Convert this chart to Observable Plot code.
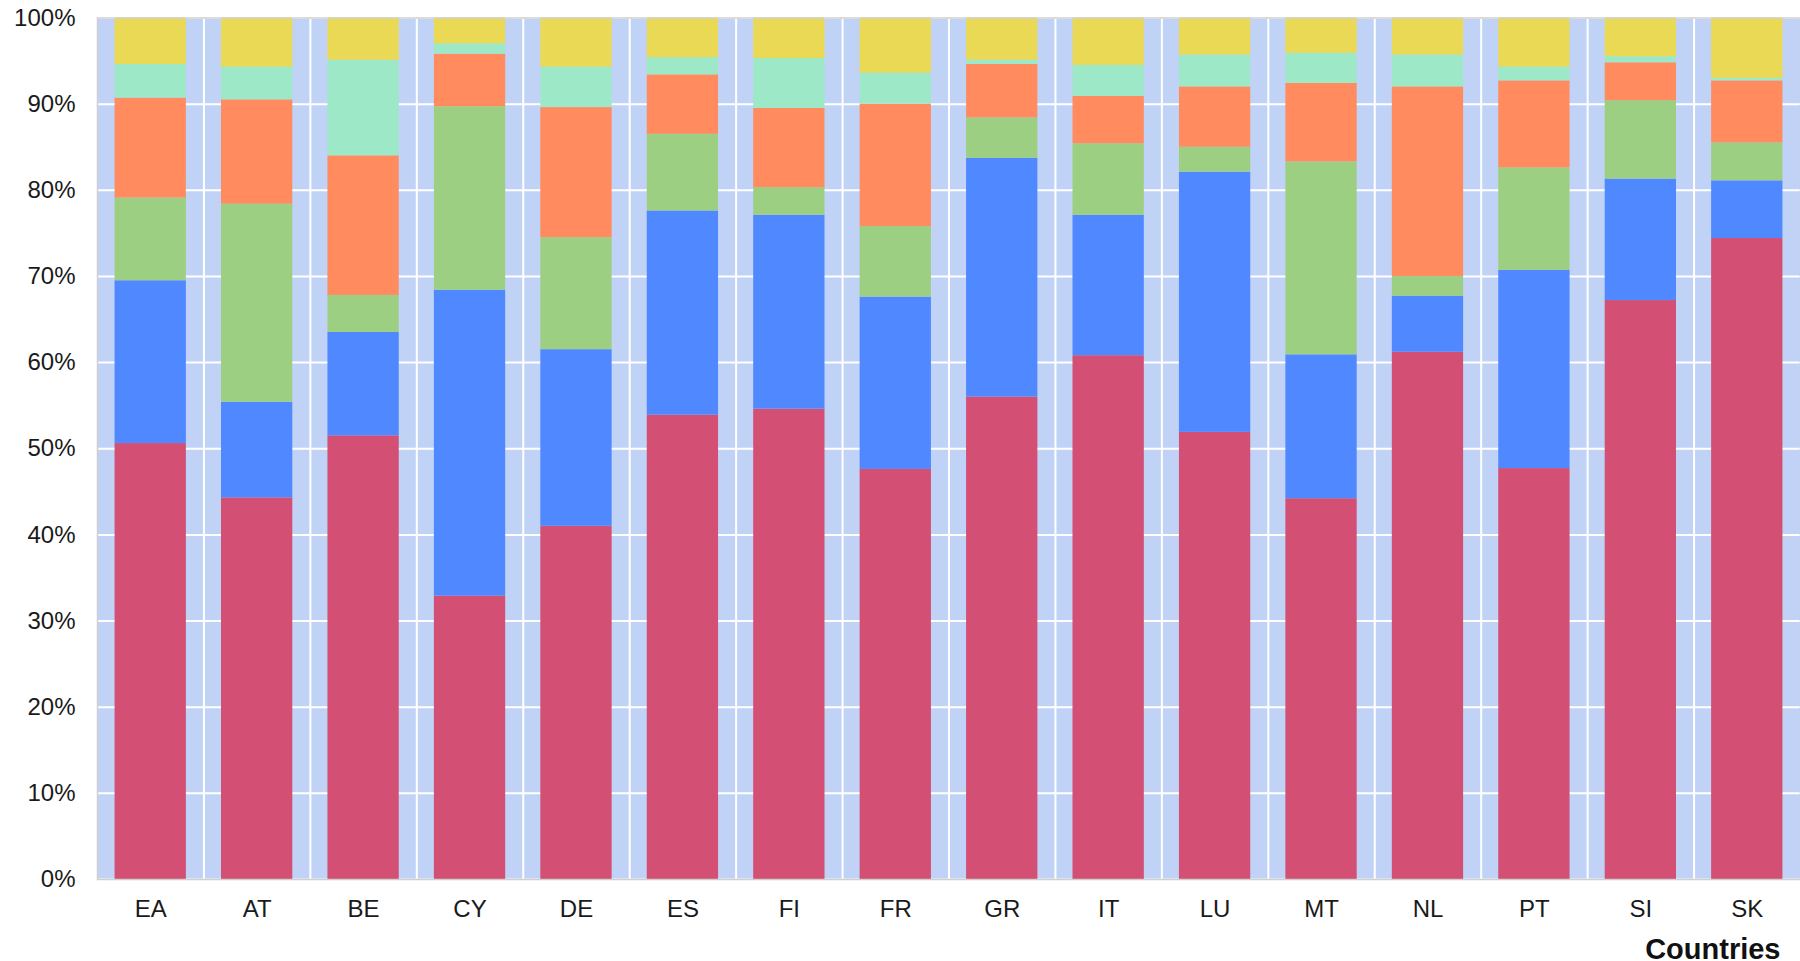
<!DOCTYPE html>
<html>
<head>
<meta charset="utf-8">
<script src="https://cdn.jsdelivr.net/npm/d3@7"></script>
<script src="https://cdn.jsdelivr.net/npm/@observablehq/plot@0.6"></script>
<style>
  html, body { margin: 0; padding: 0; background: #ffffff; }
  #chart svg { display: block; }
</style>
</head>
<body>
<div id="chart"></div>
<script>
// Categories (x axis)
const countries = ["EA","AT","BE","CY","DE","ES","FI","FR","GR","IT","LU","MT","NL","PT","SI","SK"];

// Series (stacked bottom to top), shares in %
const seriesNames = ["Component 1","Component 2","Component 3","Component 4","Component 5","Component 6"];
const series1 = [50.6,44.3,51.5,32.9,41.0,53.9,54.6,47.6,56.0,60.8,51.9,44.2,61.2,47.7,67.2,74.4];
const series2 = [18.9,11.1,12.0,35.5,20.5,23.7,22.5,20.0,27.7,16.3,30.2,16.7,6.5,23.0,14.1,6.7];
const series3 = [9.6,23.0,4.3,21.3,13.0,8.9,3.2,8.2,4.7,8.3,2.9,22.4,2.3,11.9,9.1,4.4];
const series4 = [11.6,12.1,16.2,6.1,15.1,6.9,9.2,14.2,6.2,5.5,7.0,9.1,22.0,10.1,4.4,7.2];
const series5 = [3.9,3.8,11.1,1.2,4.7,2.0,5.8,3.6,0.5,3.6,3.7,3.5,3.7,1.6,0.7,0.3];
const series6 = [5.4,5.7,4.9,3.0,5.7,4.6,4.7,6.4,4.9,5.5,4.3,4.1,4.3,5.7,4.5,7.0];

// Tick values (y axis)
const yTicks = [0,10,20,30,40,50,60,70,80,90,100];
const xAxisTitle = ["Countries"];

const colors = ["#D34F73","#4F88FF","#9DCF82","#FF8B5F","#9DE8C6","#EAD955"];

const allSeries = [series1, series2, series3, series4, series5, series6];
const rows = [];
countries.forEach((c, i) => {
  allSeries.forEach((s, k) => rows.push({country: c, series: seriesNames[k], value: s[i]}));
});

const W = 1800, H = 961;
const mL = 97, mR = 0, mT = 17.5, mB = 82;
const step = (W - mL - mR) / countries.length;
const font = "'Liberation Sans', Arial, Helvetica, sans-serif";

const chart = Plot.plot({
  width: W,
  height: H,
  marginLeft: mL,
  marginRight: mR,
  marginTop: mT,
  marginBottom: mB,
  style: {fontFamily: font, fontSize: "24px", color: "#1a1a1a", background: "#ffffff", overflow: "visible"},
  x: {domain: countries, paddingInner: 0.33, paddingOuter: 0.165, round: false, label: null},
  y: {domain: [0, 100], label: null},
  color: {domain: seriesNames, range: colors},
  marks: [
    Plot.frame({fill: "#C0D3F7"}),
    Plot.ruleY(yTicks, {stroke: "#ffffff", strokeWidth: 2}),
    Plot.ruleX(countries.slice(1), {x: d => d, dx: -step / 2, stroke: "#ffffff", strokeWidth: 2}),
    Plot.barY(rows, Plot.stackY({
      x: "country",
      y: "value",
      z: "series",
      fill: "series",
      order: seriesNames,
      inset: 0
    })),
    Plot.frame({stroke: "#cfcfcf", strokeWidth: 1.5}),
    Plot.axisY({ticks: yTicks, tickFormat: d => d + "%", tickSize: 0, tickPadding: 22, fontSize: 24, label: null}),
    Plot.axisX({tickSize: 0, tickPadding: 20, fontSize: 24, label: null}),
    Plot.text(xAxisTitle, {
      frameAnchor: "bottom-right",
      text: d => d,
      dx: -20,
      dy: 79,
      fontSize: 29,
      fontWeight: "bold",
      fill: "#111111",
      textAnchor: "end",
      lineAnchor: "bottom"
    })
  ]
});

document.getElementById("chart").appendChild(chart);
</script>
</body>
</html>
